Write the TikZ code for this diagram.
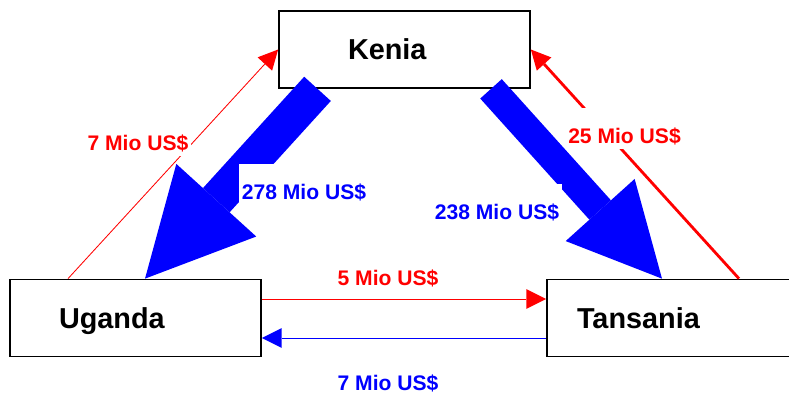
\documentclass[tikz,border=0pt]{standalone}
\usepackage{fontspec}
\setmainfont{Liberation Sans}
\usetikzlibrary{arrows.meta,positioning}

\begin{document}
\begin{tikzpicture}[> = {Triangle[length = 14pt, width = 14pt, line width = 0pt]},
    land/.style = {draw, line width = 1.2pt, minimum width = 6.275cm, minimum height = 1.925cm, text depth = 0pt, align = left, font = \fontsize{20.5}{24}\selectfont\bfseries},
    betrag/.style = {fill = white, anchor = base, inner xsep = 2pt, inner ysep = 1pt, text height = 0.85cm, text depth = 0.1cm, font = \fontsize{15}{18}\selectfont\bfseries}]
    \useasboundingbox (0,0) rectangle (19.725,9.85);
    \clip (0,0) rectangle (19.725,9.85);
    \node at (10.1125,8.6125) [land, text width = 2.825cm] (kenia) {Kenia};
    \node at (3.3875,1.9) [land, text width = 3.825cm] (uganda) {Uganda};
    \node at (16.8125,1.9) [land, text width = 4.775cm] (tansania) {Tansania};
    % Exporte Kenia (blau)
    \draw[blue, line width = 0.9cm, -{Triangle[length = 2.65cm, width = 2.7cm, line width = 0pt]}] ([xshift = -2.175cm]kenia.south) -- ([xshift = 0.2375cm]uganda.north);
    \draw[blue, line width = 0.725cm, -{Triangle[length = 2.31cm, width = 2.32cm, line width = 0pt]}] ([xshift = 2.1625cm]kenia.south) -- ([xshift = -0.2625cm]tansania.north);
    % Rueckfluesse (rot)
    \draw[->, red, line width = 0.6pt] ([xshift = -1.6875cm]uganda.north) -- (kenia.west);
    \draw[->, red, line width = 2pt] ([xshift = 1.6625cm]tansania.north) -- (kenia.east);
    \draw[->, red, line width = 0.6pt] ([yshift = 0.475cm]uganda.east) -- ([yshift = 0.475cm]tansania.west);
    \draw[->, blue, line width = 0.6pt] ([yshift = -0.5cm]tansania.west) -- ([yshift = -0.5cm]uganda.east);
    % Betraege
    \node at (3.45,6.0875) [betrag, text = red] (ugke) {7 Mio US\$};
    \node at (7.6,4.8625) [betrag, text = blue] (keug) {278 Mio US\$};
    \node at (12.425,4.3625) [betrag, text = blue] (keta) {238 Mio US\$};
    \node at (15.6125,6.2625) [betrag, text = red] (take) {25 Mio US\$};
    \node at (9.7,2.7125) [betrag, text = red] (ugta) {5 Mio US\$};
    \node at (9.7,0.0875) [betrag, text = blue] (taug) {7 Mio US\$};
\end{tikzpicture}
\end{document}
